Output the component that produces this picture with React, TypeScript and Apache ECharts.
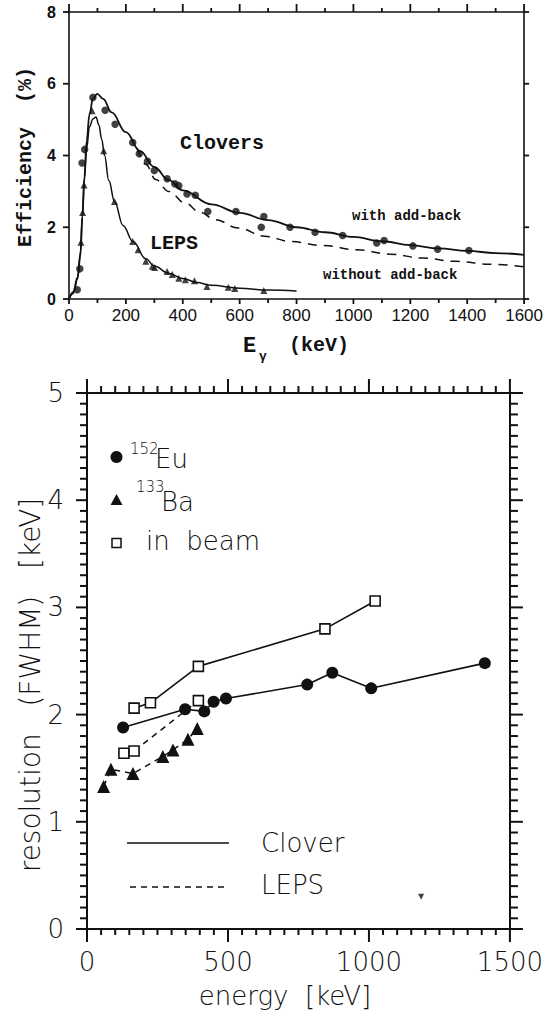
import React, { useEffect, useRef } from "react";
import * as echarts from "echarts";

// ---------- Efficiency panel (energy in keV, efficiency in %) ----------
const effXTicks = { min: 0, max: 1600, interval: 200 };
const effYTicks = { min: 0, max: 8, interval: 2 };

// Clover detectors, measured (filled circles)
const cloverMeasured: number[][] = [
  [29, 0.26], [38, 0.84], [46, 3.79], [55, 4.17], [84, 5.62], [127, 5.26], [162, 4.87],
  [224, 4.36], [247, 4.05], [276, 3.84], [300, 3.58], [345, 3.35], [372, 3.21], [386, 3.16],
  [415, 2.93], [444, 2.89], [488, 2.44], [587, 2.44], [676, 2.0], [685, 2.3], [777, 2.0],
  [865, 1.86], [962, 1.77], [1082, 1.56], [1108, 1.63], [1209, 1.48], [1296, 1.39], [1406, 1.35],
];

// LEPS detectors, measured (filled triangles)
const lepsMeasured: number[][] = [
  [42, 1.58], [48, 2.41], [53, 3.18], [81, 5.25], [122, 4.13], [160, 2.72], [224, 1.6],
  [243, 1.37], [270, 1.05], [293, 0.91], [301, 0.88], [345, 0.77], [363, 0.68], [386, 0.58],
  [409, 0.54], [441, 0.51], [485, 0.35], [560, 0.33], [583, 0.29], [685, 0.24],
];

// Fitted efficiency curves
const cloverAddBackFit: number[][] = [
  [0, 0], [15, 0.2], [30, 0.6], [40, 1.2], [47, 2.3], [54, 3.4], [62, 4.4], [72, 5.15],
  [84, 5.58], [99, 5.72], [120, 5.58], [150, 5.2], [200, 4.65], [250, 4.12], [300, 3.68],
  [350, 3.32], [400, 3.03], [500, 2.64], [600, 2.4], [700, 2.2], [800, 2.0], [900, 1.86],
  [1000, 1.73], [1100, 1.61], [1200, 1.5], [1300, 1.41], [1400, 1.34], [1500, 1.28], [1600, 1.23],
];
const cloverNoAddBackFit: number[][] = [
  [240, 4.2], [270, 3.75], [305, 3.33], [350, 3.0], [409, 2.67], [460, 2.42], [514, 2.21],
  [595, 1.98], [688, 1.75], [780, 1.6], [896, 1.49], [1012, 1.37], [1128, 1.25], [1244, 1.14],
  [1360, 1.05], [1480, 0.97], [1600, 0.9],
];
const lepsFit: number[][] = [
  [0, 0], [15, 0.15], [30, 0.55], [40, 1.3], [47, 2.3], [54, 3.3], [62, 4.2], [72, 4.8],
  [84, 5.02], [95, 5.07], [105, 4.85], [115, 4.45], [125, 4.0], [140, 3.3], [160, 2.72],
  [190, 2.05], [225, 1.6], [270, 1.12], [300, 0.92], [350, 0.72], [400, 0.57], [450, 0.46],
  [500, 0.38], [600, 0.3], [700, 0.25], [800, 0.22],
];

// ---------- Resolution panel (energy in keV, FWHM in keV) ----------
const resXTicks = { min: 0, max: 1500, interval: 500 };
const resYTicks = { min: 0, max: 5, interval: 1 };

const eu152: number[][] = [
  [128, 1.88], [348, 2.05], [416, 2.03], [449, 2.12], [493, 2.15], [781, 2.28], [870, 2.39],
  [1008, 2.245], [1411, 2.48],
];
const ba133: number[][] = [
  [59, 1.33], [85, 1.49], [163, 1.45], [269, 1.61], [305, 1.67], [358, 1.77], [391, 1.87],
];
const inBeamClover: number[][] = [[167, 2.06], [225, 2.11], [395, 2.45], [844, 2.8], [1022, 3.06]];
const inBeamLeps: number[][] = [[131, 1.64], [167, 1.66], [395, 2.13]];
const stray: number[][] = [[1185, 0.3]];

const INK = "#111";
const MONO = "'Liberation Mono', 'Courier New', monospace";
const SANS = "'Liberation Sans', Arial, sans-serif";
const THIN = "'DejaVu Sans', sans-serif";

const plain = (v: number) => String(v);

function frameAxis(extra: any) {
  return {
    type: "value",
    axisLine: { show: true, onZero: false, lineStyle: { color: INK, width: 1.6 } },
    axisTick: { show: false },
    splitLine: { show: false },
    minorSplitLine: { show: false },
    ...extra,
  };
}

// Tick marks along one side of a panel, placed through the panel's own scales.
// side: "bottom" | "top" | "left" | "right"; edge is the data value of that side.
function tickMarks(
  axisIdx: number, side: string, edge: number,
  from: number, to: number, step: number, majorEvery: number,
  majorLen: number, minorLen: number, width: number,
) {
  const data: number[][] = [];
  const n = Math.round((to - from) / step);
  for (let k = 0; k <= n; k++) {
    const v = Math.round((from + k * step) * 1000) / 1000;
    data.push([v, k % majorEvery === 0 ? 1 : 0]);
  }
  const vertical = side === "bottom" || side === "top";
  const dir = side === "bottom" || side === "right" ? 1 : -1;
  return {
    type: "custom",
    xAxisIndex: axisIdx,
    yAxisIndex: axisIdx,
    clip: false,
    silent: true,
    z: 5,
    data,
    renderItem: (_p: any, api: any) => {
      const v = api.value(0);
      const len = api.value(1) ? majorLen : minorLen;
      const pt = vertical ? api.coord([v, edge]) : api.coord([edge, v]);
      const shape = vertical
        ? { x1: pt[0], y1: pt[1], x2: pt[0], y2: pt[1] + dir * len }
        : { x1: pt[0], y1: pt[1], x2: pt[0] + dir * len, y2: pt[1] };
      return { type: "line", shape, style: { stroke: INK, lineWidth: width } };
    },
  };
}

export default function App() {
  const ref = useRef<HTMLDivElement>(null);

  useEffect(() => {
    if (!ref.current) return;
    const chart = echarts.init(ref.current, undefined, { renderer: "svg" });
    const thick = { show: true, onZero: false, lineStyle: { color: INK, width: 2 } };

    const option: any = {
      animation: false,
      backgroundColor: "#fff",
      grid: [
        { left: 69, top: 12, width: 460, height: 287 },
        { left: 87, top: 393, width: 425, height: 536 },
      ],
      xAxis: [
        frameAxis({
          gridIndex: 0, position: "bottom", ...effXTicks,
          axisLabel: { margin: 8, fontSize: 17, fontFamily: SANS, color: INK, formatter: plain },
        }),
        frameAxis({ gridIndex: 0, position: "top", ...effXTicks, axisLabel: { show: false } }),
        frameAxis({
          gridIndex: 1, position: "bottom", ...resXTicks, axisLine: thick,
          axisLabel: { margin: 20, fontSize: 26, fontFamily: THIN, fontWeight: 200, color: INK, formatter: plain },
        }),
        frameAxis({ gridIndex: 1, position: "top", ...resXTicks, axisLine: thick, axisLabel: { show: false } }),
      ],
      yAxis: [
        frameAxis({
          gridIndex: 0, position: "left", ...effYTicks,
          axisLabel: { margin: 13, fontSize: 16, fontWeight: "bold", fontFamily: SANS, color: INK, formatter: plain },
        }),
        frameAxis({ gridIndex: 0, position: "right", ...effYTicks, axisLabel: { show: false } }),
        frameAxis({
          gridIndex: 1, position: "left", ...resYTicks, axisLine: thick,
          axisLabel: { margin: 23, fontSize: 26, fontFamily: THIN, fontWeight: 200, color: INK, formatter: plain },
        }),
        frameAxis({ gridIndex: 1, position: "right", ...resYTicks, axisLine: thick, axisLabel: { show: false } }),
      ],
      series: [
        // efficiency fits
        {
          type: "line", xAxisIndex: 0, yAxisIndex: 0, data: cloverAddBackFit, showSymbol: false,
          smooth: 0.4, smoothMonotone: "x", lineStyle: { color: INK, width: 1.8 }, silent: true,
        },
        {
          type: "line", xAxisIndex: 0, yAxisIndex: 0, data: cloverNoAddBackFit, showSymbol: false,
          smooth: 0.4, smoothMonotone: "x", lineStyle: { color: INK, width: 1.5, type: [9, 7] }, silent: true,
        },
        {
          type: "line", xAxisIndex: 0, yAxisIndex: 0, data: lepsFit, showSymbol: false,
          smooth: 0.4, smoothMonotone: "x", lineStyle: { color: INK, width: 1.5 }, silent: true,
        },
        {
          type: "scatter", xAxisIndex: 0, yAxisIndex: 0, data: cloverMeasured,
          symbol: "circle", symbolSize: 7.5, itemStyle: { color: INK }, silent: true,
        },
        {
          type: "scatter", xAxisIndex: 0, yAxisIndex: 0, data: lepsMeasured,
          symbol: "triangle", symbolSize: 7, itemStyle: { color: INK }, silent: true,
        },
        // efficiency panel frame ticks
        tickMarks(0, "bottom", 0, 0, 1600, 100, 2, 5, 4, 1.8),
        tickMarks(0, "top", 8, 0, 1600, 100, 2, 8, 4, 1.8),
        tickMarks(0, "left", 0, 0, 8, 2, 1, 6, 6, 1.8),
        tickMarks(0, "right", 1600, 0, 8, 2, 1, 5, 5, 1.8),
        // resolution
        {
          type: "line", xAxisIndex: 2, yAxisIndex: 2, data: inBeamClover,
          symbol: "rect", symbolSize: 10, showAllSymbol: true,
          itemStyle: { color: "#fff", borderColor: INK, borderWidth: 1.6 },
          lineStyle: { color: INK, width: 1.6 }, z: 3, silent: true,
        },
        {
          type: "line", xAxisIndex: 2, yAxisIndex: 2, data: inBeamLeps,
          symbol: "rect", symbolSize: 10, showAllSymbol: true,
          itemStyle: { color: "#fff", borderColor: INK, borderWidth: 1.6 },
          lineStyle: { color: INK, width: 1.5, type: [6, 5] }, z: 3, silent: true,
        },
        {
          type: "line", xAxisIndex: 2, yAxisIndex: 2, data: eu152,
          symbol: "circle", symbolSize: 12, showAllSymbol: true,
          itemStyle: { color: INK }, lineStyle: { color: INK, width: 1.6 }, z: 4, silent: true,
        },
        {
          type: "line", xAxisIndex: 2, yAxisIndex: 2, data: ba133,
          symbol: "triangle", symbolSize: 13, showAllSymbol: true,
          itemStyle: { color: INK }, lineStyle: { color: INK, width: 1.5, type: [6, 5] }, z: 4, silent: true,
        },
        {
          type: "scatter", xAxisIndex: 2, yAxisIndex: 2, data: stray,
          symbol: "triangle", symbolRotate: 180, symbolSize: 6, itemStyle: { color: INK }, silent: true,
        },
        // resolution panel frame ticks
        tickMarks(2, "bottom", 0, 0, 1500, 50, 10, 13, 6, 2),
        tickMarks(2, "top", 5, 0, 1500, 50, 10, 14, 7, 2),
        tickMarks(2, "left", 0, 0, 5, 0.1, 10, 11, 7, 2),
        tickMarks(2, "right", 1500, 0, 5, 0.1, 10, 13, 8, 2),
      ],
      graphic: [
        // efficiency panel annotations
        { type: "text", left: 180, top: 133, style: { text: "Clovers", font: `bold 20px ${MONO}`, fill: INK } },
        { type: "text", left: 150, top: 233, style: { text: "LEPS", font: `bold 20px ${MONO}`, fill: INK } },
        { type: "text", left: 352, top: 209, style: { text: "with add-back", font: `bold 14px ${MONO}`, fill: INK } },
        { type: "text", left: 323, top: 268, style: { text: "without add-back", font: `bold 14px ${MONO}`, fill: INK } },
        { type: "text", left: 243, top: 335, style: { text: "E", font: `bold 22px ${MONO}`, fill: INK } },
        { type: "text", left: 259, top: 350, style: { text: "γ", font: `bold 13px ${MONO}`, fill: INK } },
        { type: "text", left: 289, top: 335, style: { text: "(keV)", font: `bold 20px ${MONO}`, fill: INK } },
        {
          type: "text", x: 25, y: 157, rotation: Math.PI / 2,
          style: { text: "Efficiency  (%)", font: `bold 20px ${MONO}`, fill: INK, align: "center", verticalAlign: "middle" },
        },
        // resolution panel legend
        { type: "circle", shape: { cx: 116.5, cy: 457, r: 6 }, style: { fill: INK } },
        { type: "text", left: 130, top: 441, style: { text: "152", font: `200 15px ${THIN}`, fill: INK } },
        { type: "text", left: 155, top: 446, style: { text: "Eu", font: `200 26px ${THIN}`, fill: INK } },
        { type: "polygon", shape: { points: [[110.5, 505], [122.5, 505], [116.5, 494]] }, style: { fill: INK } },
        { type: "text", left: 136, top: 479, style: { text: "133", font: `200 15px ${THIN}`, fill: INK } },
        { type: "text", left: 161, top: 489, style: { text: "Ba", font: `200 26px ${THIN}`, fill: INK } },
        { type: "rect", shape: { x: 112, y: 538.5, width: 9, height: 9 }, style: { fill: "#fff", stroke: INK, lineWidth: 1.5 } },
        { type: "text", left: 146, top: 528, style: { text: "in  beam", font: `200 26px ${THIN}`, fill: INK } },
        { type: "line", shape: { x1: 127, y1: 843, x2: 229, y2: 843 }, style: { stroke: INK, lineWidth: 1.6 } },
        { type: "line", shape: { x1: 130, y1: 887, x2: 229, y2: 887 }, style: { stroke: INK, lineWidth: 1.5, lineDash: [6, 5] } },
        { type: "text", left: 261, top: 830, style: { text: "Clover", font: `200 26px ${THIN}`, fill: INK } },
        { type: "text", left: 261, top: 872, style: { text: "LEPS", font: `200 26px ${THIN}`, fill: INK } },
        {
          type: "text", x: 285, y: 996,
          style: { text: "energy  [keV]", font: `200 26px ${THIN}`, fill: INK, align: "center", verticalAlign: "middle" },
        },
        {
          type: "text", x: 30, y: 685, rotation: Math.PI / 2,
          style: { text: "resolution   (FWHM)   [keV]", font: `200 28px ${THIN}`, fill: INK, align: "center", verticalAlign: "middle" },
        },
      ],
    };

    chart.setOption(option);
    return () => chart.dispose();
  }, []);

  return (
    <div
      ref={ref}
      style={{ position: "absolute", left: 0, top: 0, width: 546, height: 1016, background: "#fff" }}
    />
  );
}
